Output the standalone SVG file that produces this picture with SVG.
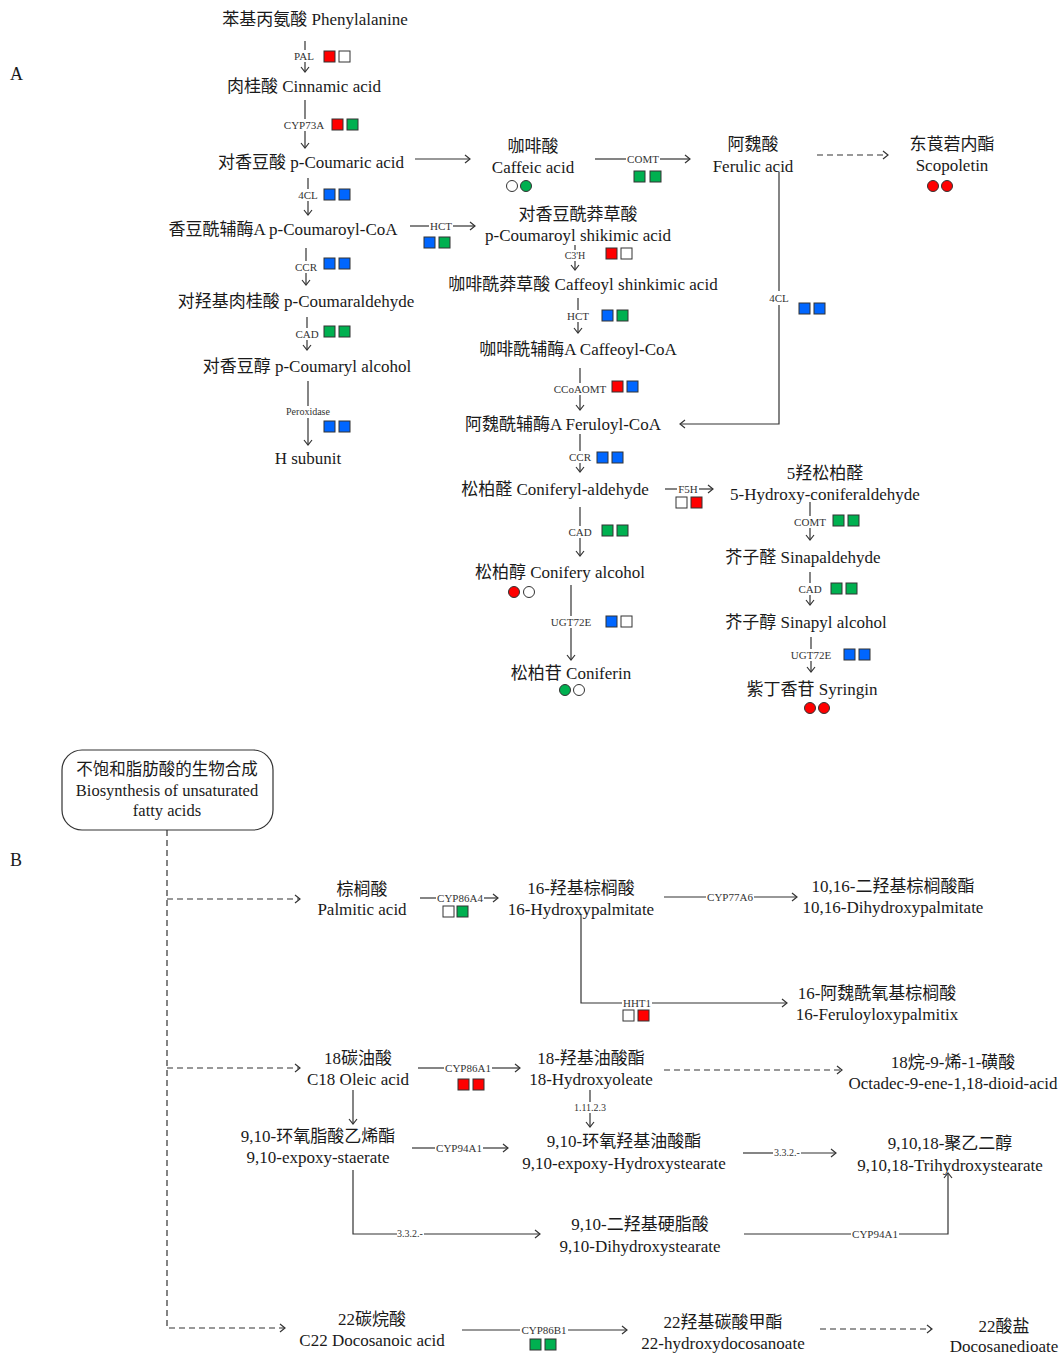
<svg xmlns="http://www.w3.org/2000/svg" width="1061" height="1354" viewBox="0 0 1061 1354">
<style>
text{font-family:"Liberation Serif","Noto Sans CJK SC",serif;fill:#1a1a1a}
.t{font-size:17px;text-anchor:middle}
.bx{font-size:16.5px;text-anchor:middle}
.e{font-size:11px;text-anchor:middle;fill:#333}
.s{font-size:10px;text-anchor:middle;fill:#333}
.big{font-size:18px}
.ln{fill:none;stroke:#333;stroke-width:1.2}
.d{stroke-dasharray:6,4}
.sq{stroke:#333;stroke-width:1}
.c{stroke:#333;stroke-width:1}
.r{fill:#ff0000}.g{fill:#00b050}.b{fill:#0066ff}.w{fill:#fff}
</style>
<defs>
<marker id="ah" viewBox="0 0 10 10" refX="8" refY="5" markerWidth="10" markerHeight="10" markerUnits="userSpaceOnUse" orient="auto"><path d="M3,1 L8,5 L3,9" fill="none" stroke="#333" stroke-width="1.2"/></marker>
</defs>
<rect width="1061" height="1354" fill="#fff"/>
<text class="big" x="10" y="80">A</text>
<text class="big" x="10" y="866">B</text>

<g id="connectors">
<!-- Part A vertical left -->
<path class="ln" d="M305,41V50"/><path class="ln" d="M305,62V72" marker-end="url(#ah)"/>
<path class="ln" d="M305,100V119"/><path class="ln" d="M305,131V148" marker-end="url(#ah)"/>
<path class="ln" d="M308,178V189"/><path class="ln" d="M308,201V215" marker-end="url(#ah)"/>
<path class="ln" d="M306,248V261"/><path class="ln" d="M306,273V285" marker-end="url(#ah)"/>
<path class="ln" d="M307,317V328"/><path class="ln" d="M307,340V350" marker-end="url(#ah)"/>
<path class="ln" d="M308,381V406"/><path class="ln" d="M308,418V445" marker-end="url(#ah)"/>
<!-- Part A middle -->
<path class="ln" d="M415,159H470" marker-end="url(#ah)"/>
<path class="ln" d="M410,226H429"/><path class="ln" d="M453,226H475" marker-end="url(#ah)"/>
<path class="ln" d="M595,159H626"/><path class="ln" d="M660,159H690" marker-end="url(#ah)"/>
<path class="ln d" d="M817,155H888" marker-end="url(#ah)"/>
<path class="ln" d="M779,172V291"/><path class="ln" d="M779,305V424H680" marker-end="url(#ah)"/>
<path class="ln" d="M575,245V250"/><path class="ln" d="M575,261V270" marker-end="url(#ah)"/>
<path class="ln" d="M578,298V310"/><path class="ln" d="M578,322V333" marker-end="url(#ah)"/>
<path class="ln" d="M580,368V383"/><path class="ln" d="M580,395V410" marker-end="url(#ah)"/>
<path class="ln" d="M580,434V451"/><path class="ln" d="M580,463V472" marker-end="url(#ah)"/>
<path class="ln" d="M665,489H677"/><path class="ln" d="M699,489H713" marker-end="url(#ah)"/>
<path class="ln" d="M580,507V526"/><path class="ln" d="M580,538V556" marker-end="url(#ah)"/>
<path class="ln" d="M571,585V616"/><path class="ln" d="M571,628V660" marker-end="url(#ah)"/>
<!-- Part A right -->
<path class="ln" d="M810,502V516"/><path class="ln" d="M810,528V540" marker-end="url(#ah)"/>
<path class="ln" d="M810,572V583"/><path class="ln" d="M810,595V605" marker-end="url(#ah)"/>
<path class="ln" d="M811,637V649"/><path class="ln" d="M811,661V672" marker-end="url(#ah)"/>
<!-- Part B -->
<path class="ln d" d="M167,830V1328H285" marker-end="url(#ah)"/>
<path class="ln d" d="M167,899H300" marker-end="url(#ah)"/>
<path class="ln d" d="M167,1068H300" marker-end="url(#ah)"/>
<path class="ln" d="M420,898H436"/><path class="ln" d="M484,898H498" marker-end="url(#ah)"/>
<path class="ln" d="M664,897H706"/><path class="ln" d="M754,897H797" marker-end="url(#ah)"/>
<path class="ln" d="M581,915V1003H622"/><path class="ln" d="M652,1003H787" marker-end="url(#ah)"/>
<path class="ln" d="M418,1068H444"/><path class="ln" d="M492,1068H520" marker-end="url(#ah)"/>
<path class="ln d" d="M664,1070H842" marker-end="url(#ah)"/>
<path class="ln" d="M590,1090V1102"/><path class="ln" d="M590,1113V1127" marker-end="url(#ah)"/>
<path class="ln" d="M353,1090V1124" marker-end="url(#ah)"/>
<path class="ln" d="M412,1148H435"/><path class="ln" d="M483,1148H508" marker-end="url(#ah)"/>
<path class="ln" d="M743,1153H773"/><path class="ln" d="M801,1153H836" marker-end="url(#ah)"/>
<path class="ln" d="M353,1170V1234H397"/><path class="ln" d="M424,1234H540" marker-end="url(#ah)"/>
<path class="ln" d="M744,1234H851"/><path class="ln" d="M899,1234H948V1173" marker-end="url(#ah)"/>
<path class="ln" d="M462,1330H520"/><path class="ln" d="M568,1330H627" marker-end="url(#ah)"/>
<path class="ln d" d="M820,1329H932" marker-end="url(#ah)"/>
</g>

<g id="enzyme-labels">
<text class="e" x="304" y="60">PAL</text>
<text class="e" x="304" y="129">CYP73A</text>
<text class="e" x="308" y="199">4CL</text>
<text class="e" x="306" y="271">CCR</text>
<text class="e" x="307" y="338">CAD</text>
<text class="s" x="308" y="415">Peroxidase</text>
<text class="e" x="441" y="230">HCT</text>
<text class="e" x="643" y="163">COMT</text>
<text class="e" x="779" y="302">4CL</text>
<text class="s" x="575" y="259">C3'H</text>
<text class="e" x="578" y="320">HCT</text>
<text class="e" x="580" y="393">CCoAOMT</text>
<text class="e" x="580" y="461">CCR</text>
<text class="e" x="688" y="493">F5H</text>
<text class="e" x="580" y="536">CAD</text>
<text class="e" x="571" y="626">UGT72E</text>
<text class="e" x="810" y="526">COMT</text>
<text class="e" x="810" y="593">CAD</text>
<text class="e" x="811" y="659">UGT72E</text>
<text class="e" x="460" y="902">CYP86A4</text>
<text class="e" x="730" y="901">CYP77A6</text>
<text class="e" x="637" y="1007">HHT1</text>
<text class="e" x="468" y="1072">CYP86A1</text>
<text class="s" x="590" y="1111">1.11.2.3</text>
<text class="e" x="459" y="1152">CYP94A1</text>
<text class="s" x="787" y="1156">3.3.2.-</text>
<text class="s" x="410" y="1237">3.3.2.-</text>
<text class="e" x="875" y="1238">CYP94A1</text>
<text class="e" x="544" y="1334">CYP86B1</text>
</g>

<g id="markers-squares">
<rect class="sq r" x="324" y="51" width="11" height="11"/><rect class="sq w" x="339" y="51" width="11" height="11"/>
<rect class="sq r" x="332" y="119" width="11" height="11"/><rect class="sq g" x="347" y="119" width="11" height="11"/>
<rect class="sq b" x="324" y="189" width="11" height="11"/><rect class="sq b" x="339" y="189" width="11" height="11"/>
<rect class="sq b" x="424" y="237" width="11" height="11"/><rect class="sq g" x="439" y="237" width="11" height="11"/>
<rect class="sq b" x="324" y="258" width="11" height="11"/><rect class="sq b" x="339" y="258" width="11" height="11"/>
<rect class="sq g" x="324" y="326" width="11" height="11"/><rect class="sq g" x="339" y="326" width="11" height="11"/>
<rect class="sq b" x="324" y="421" width="11" height="11"/><rect class="sq b" x="339" y="421" width="11" height="11"/>
<rect class="sq g" x="634" y="171" width="11" height="11"/><rect class="sq g" x="650" y="171" width="11" height="11"/>
<rect class="sq r" x="606" y="248" width="11" height="11"/><rect class="sq w" x="621" y="248" width="11" height="11"/>
<rect class="sq b" x="602" y="310" width="11" height="11"/><rect class="sq g" x="617" y="310" width="11" height="11"/>
<rect class="sq b" x="799" y="303" width="11" height="11"/><rect class="sq b" x="814" y="303" width="11" height="11"/>
<rect class="sq r" x="612" y="381" width="11" height="11"/><rect class="sq b" x="627" y="381" width="11" height="11"/>
<rect class="sq b" x="597" y="452" width="11" height="11"/><rect class="sq b" x="612" y="452" width="11" height="11"/>
<rect class="sq w" x="676" y="497" width="11" height="11"/><rect class="sq r" x="691" y="497" width="11" height="11"/>
<rect class="sq g" x="602" y="525" width="11" height="11"/><rect class="sq g" x="617" y="525" width="11" height="11"/>
<rect class="sq b" x="606" y="616" width="11" height="11"/><rect class="sq w" x="621" y="616" width="11" height="11"/>
<rect class="sq g" x="833" y="515" width="11" height="11"/><rect class="sq g" x="848" y="515" width="11" height="11"/>
<rect class="sq g" x="831" y="583" width="11" height="11"/><rect class="sq g" x="846" y="583" width="11" height="11"/>
<rect class="sq b" x="844" y="649" width="11" height="11"/><rect class="sq b" x="859" y="649" width="11" height="11"/>
<rect class="sq w" x="443" y="906" width="11" height="11"/><rect class="sq g" x="457" y="906" width="11" height="11"/>
<rect class="sq w" x="623" y="1010" width="11" height="11"/><rect class="sq r" x="638" y="1010" width="11" height="11"/>
<rect class="sq r" x="458" y="1079" width="11" height="11"/><rect class="sq r" x="473" y="1079" width="11" height="11"/>
<rect class="sq g" x="530" y="1339" width="11" height="11"/><rect class="sq g" x="545" y="1339" width="11" height="11"/>
<circle class="c w" cx="512" cy="186" r="5.5"/><circle class="c g" cx="526" cy="186" r="5.5"/>
<circle class="c r" cx="933" cy="186" r="5.5"/><circle class="c r" cx="947" cy="186" r="5.5"/>
<circle class="c r" cx="514" cy="592" r="5.5"/><circle class="c w" cx="529" cy="592" r="5.5"/>
<circle class="c g" cx="565" cy="690" r="5.5"/><circle class="c w" cx="579" cy="690" r="5.5"/>
<circle class="c r" cx="810" cy="708" r="5.5"/><circle class="c r" cx="824" cy="708" r="5.5"/>
</g>

<g id="n-phenylalanine"><text class="t" x="315" y="25">苯基丙氨酸 Phenylalanine</text></g>
<g id="n-cinnamic"><text class="t" x="304" y="92">肉桂酸 Cinnamic acid</text></g>
<g id="n-pcoumaric"><text class="t" x="311" y="168">对香豆酸 p-Coumaric acid</text></g>
<g id="n-pcoumaroylcoa"><text class="t" x="283" y="235">香豆酰辅酶A p-Coumaroyl-CoA</text></g>
<g id="n-pcoumaraldehyde"><text class="t" x="296" y="307">对羟基肉桂酸 p-Coumaraldehyde</text></g>
<g id="n-pcoumarylalcohol"><text class="t" x="307" y="372">对香豆醇 p-Coumaryl alcohol</text></g>
<g id="n-hsubunit"><text class="t" x="308" y="464">H subunit</text></g>
<g id="n-caffeic"><text class="t" x="533" y="152">咖啡酸</text><text class="t" x="533" y="173">Caffeic acid</text></g>
<g id="n-ferulic"><text class="t" x="753" y="150">阿魏酸</text><text class="t" x="753" y="172">Ferulic acid</text></g>
<g id="n-scopoletin"><text class="t" x="952" y="150">东莨菪内酯</text><text class="t" x="952" y="171">Scopoletin</text></g>
<g id="n-pcoumaroylshikimic"><text class="t" x="578" y="220">对香豆酰莽草酸</text><text class="t" x="578" y="241">p-Coumaroyl shikimic acid</text></g>
<g id="n-caffeoylshikimic"><text class="t" x="583" y="290">咖啡酰莽草酸 Caffeoyl shinkimic acid</text></g>
<g id="n-caffeoylcoa"><text class="t" x="578" y="355">咖啡酰辅酶A Caffeoyl-CoA</text></g>
<g id="n-feruloylcoa"><text class="t" x="563" y="430">阿魏酰辅酶A Feruloyl-CoA</text></g>
<g id="n-coniferylaldehyde"><text class="t" x="555" y="495">松柏醛 Coniferyl-aldehyde</text></g>
<g id="n-coniferyalcohol"><text class="t" x="560" y="578">松柏醇 Conifery alcohol</text></g>
<g id="n-coniferin"><text class="t" x="571" y="679">松柏苷 Coniferin</text></g>
<g id="n-5hydroxy"><text class="t" x="825" y="479">5羟松柏醛</text><text class="t" x="825" y="500">5-Hydroxy-coniferaldehyde</text></g>
<g id="n-sinapaldehyde"><text class="t" x="803" y="563">芥子醛 Sinapaldehyde</text></g>
<g id="n-sinapylalcohol"><text class="t" x="806" y="628">芥子醇 Sinapyl alcohol</text></g>
<g id="n-syringin"><text class="t" x="812" y="695">紫丁香苷 Syringin</text></g>

<g id="n-ufa-box"><rect x="62" y="750" width="211" height="80" rx="20" fill="#fff" stroke="#333" stroke-width="1.2"/>
<text class="bx" x="167" y="775">不饱和脂肪酸的生物合成</text><text class="bx" x="167" y="796">Biosynthesis of unsaturated</text><text class="bx" x="167" y="816">fatty acids</text></g>
<g id="n-palmitic"><text class="t" x="362" y="895">棕榈酸</text><text class="t" x="362" y="915">Palmitic acid</text></g>
<g id="n-16hydroxypalmitate"><text class="t" x="581" y="894">16-羟基棕榈酸</text><text class="t" x="581" y="915">16-Hydroxypalmitate</text></g>
<g id="n-1016dihydroxypalmitate"><text class="t" x="893" y="892">10,16-二羟基棕榈酸酯</text><text class="t" x="893" y="913">10,16-Dihydroxypalmitate</text></g>
<g id="n-16feruloyloxy"><text class="t" x="877" y="999">16-阿魏酰氧基棕榈酸</text><text class="t" x="877" y="1020">16-Feruloyloxypalmitix</text></g>
<g id="n-oleic"><text class="t" x="358" y="1064">18碳油酸</text><text class="t" x="358" y="1085">C18 Oleic acid</text></g>
<g id="n-18hydroxyoleate"><text class="t" x="591" y="1064">18-羟基油酸酯</text><text class="t" x="591" y="1085">18-Hydroxyoleate</text></g>
<g id="n-octadec"><text class="t" x="953" y="1068">18烷-9-烯-1-磺酸</text><text class="t" x="953" y="1089">Octadec-9-ene-1,18-dioid-acid</text></g>
<g id="n-epoxystaerate"><text class="t" x="318" y="1142">9,10-环氧脂酸乙烯酯</text><text class="t" x="318" y="1163">9,10-expoxy-staerate</text></g>
<g id="n-epoxyhydroxystearate"><text class="t" x="624" y="1147">9,10-环氧羟基油酸酯</text><text class="t" x="624" y="1169">9,10-expoxy-Hydroxystearate</text></g>
<g id="n-trihydroxystearate"><text class="t" x="950" y="1149">9,10,18-聚乙二醇</text><text class="t" x="950" y="1171">9,10,18-Trihydroxystearate</text></g>
<g id="n-dihydroxystearate"><text class="t" x="640" y="1230">9,10-二羟基硬脂酸</text><text class="t" x="640" y="1252">9,10-Dihydroxystearate</text></g>
<g id="n-docosanoic"><text class="t" x="372" y="1325">22碳烷酸</text><text class="t" x="372" y="1346">C22 Docosanoic acid</text></g>
<g id="n-22hydroxy"><text class="t" x="723" y="1328">22羟基碳酸甲酯</text><text class="t" x="723" y="1349">22-hydroxydocosanoate</text></g>
<g id="n-docosanedioate"><text class="t" x="1004" y="1332">22酸盐</text><text class="t" x="1004" y="1352">Docosanedioate</text></g>
</svg>
